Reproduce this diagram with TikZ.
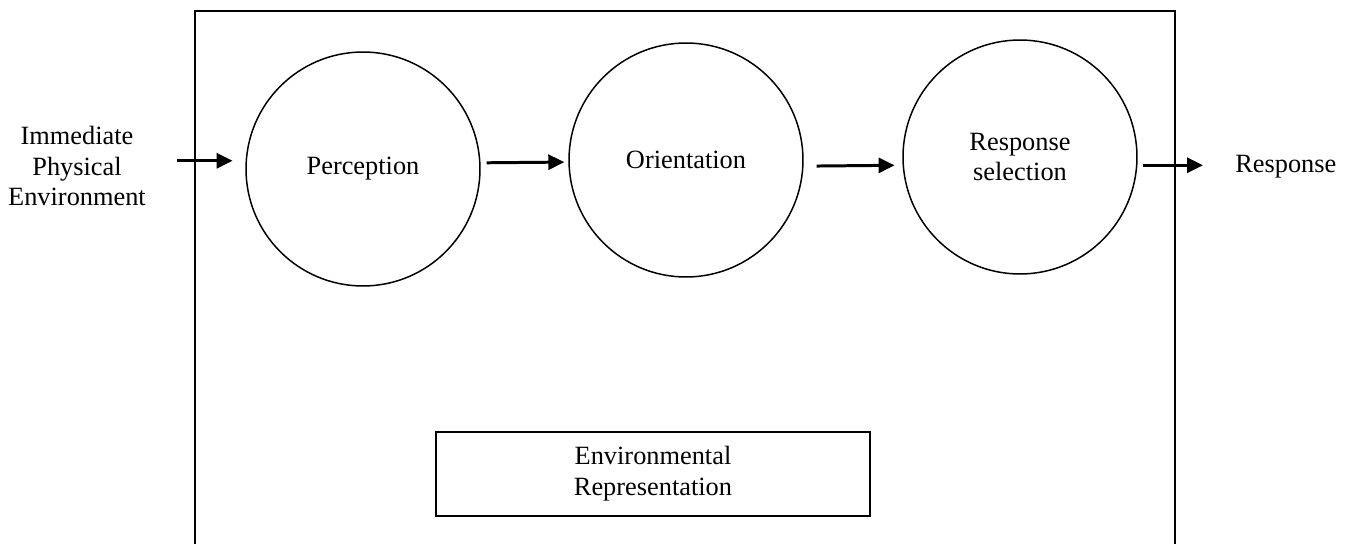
\documentclass[tikz,border=0pt]{standalone}
\usepackage{fontspec}
\setmainfont{Liberation Serif}
\usetikzlibrary{arrows.meta, positioning}

\begin{document}
\begin{tikzpicture}[x=0.02cm, y=-0.02cm, >={Triangle[length=0.32cm, width=0.3cm]},
        every node/.style={font=\fontsize{15}{17.6}\selectfont},
        stage/.style={draw, circle, line width=0.85pt, minimum size=4.68cm, inner sep=0pt, align=center},
        flow/.style={->, line width=1.7pt},
        lbl/.style={align=center, inner sep=0pt}]
            \useasboundingbox (0,0) rectangle (1350,544);

            % frame, open at the bottom
            \draw[line width=1.1pt] (195,548) |- (1175,11) -- (1175,548);

            \node[stage] (perc) at (363,169) {Perception};
            \node[stage] (orient) at (686,160) {Orientation};
            \node[stage] (rsel) at (1020,157) {Response\\selection};

            \node[lbl] (ienv) at (77,166) {Immediate\\Physical\\Environment};
            \node[lbl, anchor=west] (resp) at (1235,167) {Response};

            \node[draw, line width=0.75pt, minimum width=8.68cm, minimum height=1.68cm, align=center] (envrep) at (653,474) {Environmental\\Representation};

            \draw[flow, shorten <=0.62cm, shorten >=0.26cm] (ienv.east |- perc.176.6) -- (perc.176.6);
            \draw[flow, shorten <=0.12cm, shorten >=0.08cm] (perc.3.4) -- (orient.181);
            \draw[flow, shorten <=0.26cm, shorten >=0.16cm] (orient.-3) -- (rsel.184.4);
            \draw[flow, shorten <=0.12cm, shorten >=0.64cm] (rsel.-4.4) -- (rsel.-4.4 -| resp.west);
        \end{tikzpicture}
\end{document}
